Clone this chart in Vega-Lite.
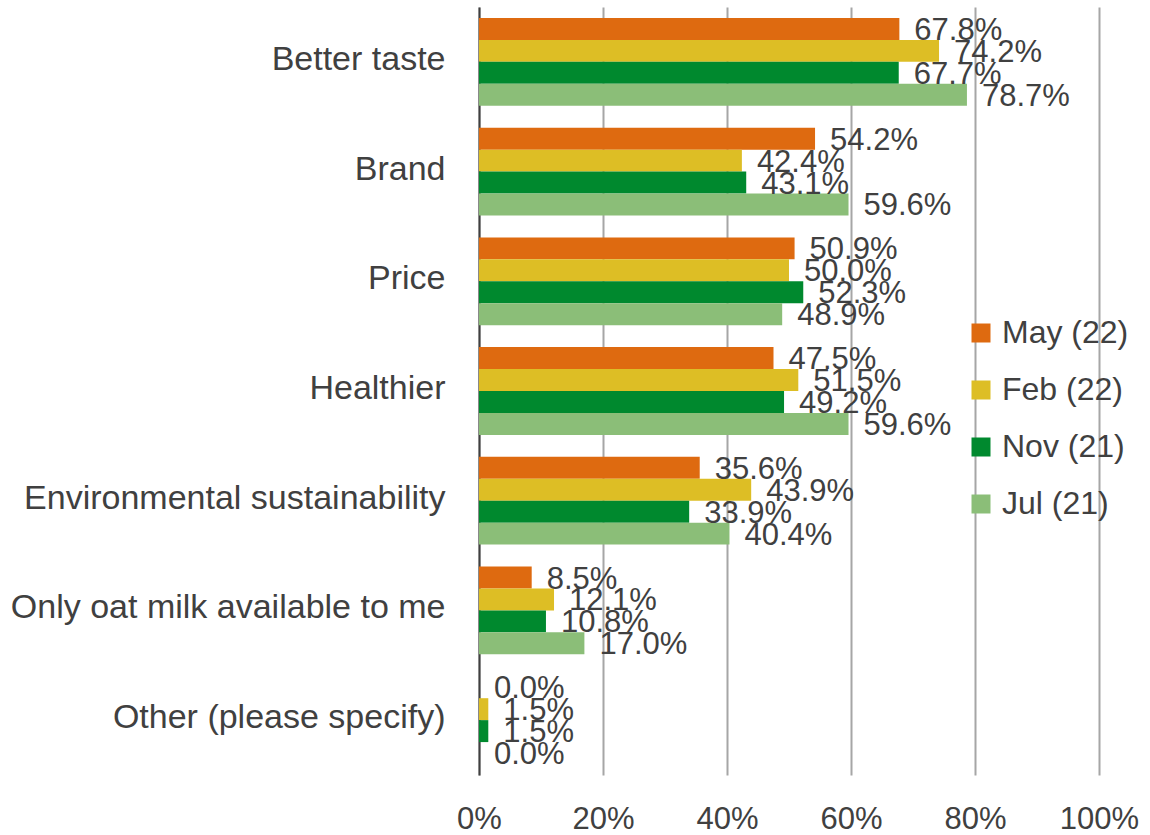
{
  "$schema": "https://vega.github.io/schema/vega-lite/v6.json",
  "width": 620,
  "height": 768,
  "autosize": {"type": "none"},
  "padding": {"left": 479, "top": 7, "right": 51, "bottom": 60},
  "background": "white",
  "config": {
    "font": "Liberation Sans",
    "view": {"stroke": null}
  },
  "data": {
    "values": [
      {"reason": "Better taste", "series": "May (22)", "value": 0.678},
      {"reason": "Better taste", "series": "Feb (22)", "value": 0.742},
      {"reason": "Better taste", "series": "Nov (21)", "value": 0.677},
      {"reason": "Better taste", "series": "Jul (21)", "value": 0.787},
      {"reason": "Brand", "series": "May (22)", "value": 0.542},
      {"reason": "Brand", "series": "Feb (22)", "value": 0.424},
      {"reason": "Brand", "series": "Nov (21)", "value": 0.431},
      {"reason": "Brand", "series": "Jul (21)", "value": 0.596},
      {"reason": "Price", "series": "May (22)", "value": 0.509},
      {"reason": "Price", "series": "Feb (22)", "value": 0.500},
      {"reason": "Price", "series": "Nov (21)", "value": 0.523},
      {"reason": "Price", "series": "Jul (21)", "value": 0.489},
      {"reason": "Healthier", "series": "May (22)", "value": 0.475},
      {"reason": "Healthier", "series": "Feb (22)", "value": 0.515},
      {"reason": "Healthier", "series": "Nov (21)", "value": 0.492},
      {"reason": "Healthier", "series": "Jul (21)", "value": 0.596},
      {"reason": "Environmental sustainability", "series": "May (22)", "value": 0.356},
      {"reason": "Environmental sustainability", "series": "Feb (22)", "value": 0.439},
      {"reason": "Environmental sustainability", "series": "Nov (21)", "value": 0.339},
      {"reason": "Environmental sustainability", "series": "Jul (21)", "value": 0.404},
      {"reason": "Only oat milk available to me", "series": "May (22)", "value": 0.085},
      {"reason": "Only oat milk available to me", "series": "Feb (22)", "value": 0.121},
      {"reason": "Only oat milk available to me", "series": "Nov (21)", "value": 0.108},
      {"reason": "Only oat milk available to me", "series": "Jul (21)", "value": 0.170},
      {"reason": "Other (please specify)", "series": "May (22)", "value": 0.0},
      {"reason": "Other (please specify)", "series": "Feb (22)", "value": 0.015},
      {"reason": "Other (please specify)", "series": "Nov (21)", "value": 0.015},
      {"reason": "Other (please specify)", "series": "Jul (21)", "value": 0.0}
    ]
  },
  "encoding": {
    "y": {
      "field": "reason",
      "type": "nominal",
      "sort": null,
      "scale": {"paddingInner": 0.2, "paddingOuter": 0.1},
      "axis": {
        "title": null,
        "ticks": false,
        "domainColor": "#404040",
        "domainWidth": 2,
        "labelFontSize": 34,
        "labelColor": "#404040",
        "labelPadding": 34,
        "labelOffset": -2,
        "labelLimit": 600
      }
    },
    "yOffset": {"field": "series", "type": "nominal", "sort": ["May (22)", "Feb (22)", "Nov (21)", "Jul (21)"]},
    "x": {
      "field": "value",
      "type": "quantitative",
      "scale": {"domain": [0, 1], "nice": false},
      "axis": {
        "title": null,
        "format": ".0%",
        "values": [0, 0.2, 0.4, 0.6, 0.8, 1],
        "domain": false,
        "ticks": false,
        "gridColor": "#A6A6A6",
        "gridWidth": 2,
        "labelFontSize": 31,
        "labelColor": "#404040",
        "labelPadding": 29,
        "labelFlush": false
      }
    }
  },
  "layer": [
    {
      "mark": {"type": "bar"},
      "encoding": {
        "color": {
          "field": "series",
          "type": "nominal",
          "sort": ["May (22)", "Feb (22)", "Nov (21)", "Jul (21)"],
          "scale": {
            "domain": ["May (22)", "Feb (22)", "Nov (21)", "Jul (21)"],
            "range": ["#DE6A10", "#DDBE25", "#00892E", "#8BBE78"]
          },
          "legend": {
            "title": null,
            "orient": "none",
            "legendX": 486,
            "legendY": 310,
            "symbolType": "square",
            "symbolSize": 361,
            "symbolStrokeWidth": 0,
            "symbolOpacity": 1,
            "labelFontSize": 32,
            "labelColor": "#404040",
            "labelOffset": 5,
            "labelLimit": 300,
            "rowPadding": 25
          }
        }
      }
    },
    {
      "mark": {"type": "text", "align": "left", "baseline": "middle", "dx": 15, "dy": 2, "fontSize": 31, "color": "#404040"},
      "encoding": {
        "text": {"field": "value", "type": "quantitative", "format": ".1%"}
      }
    }
  ]
}
